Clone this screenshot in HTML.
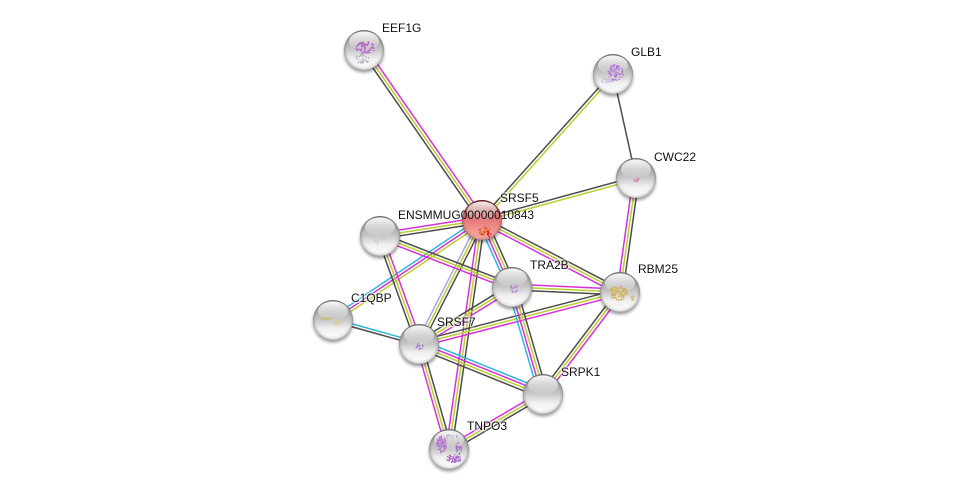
<!DOCTYPE html>
<html><head><meta charset="utf-8"><style>
html,body{margin:0;padding:0;background:#fff}
svg{display:block}
text{font-family:"Liberation Sans",sans-serif;font-size:12px;fill:#111;paint-order:stroke;stroke:rgba(255,255,255,.6);stroke-width:2.5px}
</style></head><body>
<svg id="s" width="976" height="493" viewBox="0 0 976 493" xmlns="http://www.w3.org/2000/svg">
<defs>
<linearGradient id="b" x1="0" y1="0" x2="0" y2="1"><stop offset="0" stop-color="#8d8d8d"/><stop offset=".3" stop-color="#b0b0b0"/><stop offset=".5" stop-color="#c8c8c8"/><stop offset=".72" stop-color="#f0f0f0"/><stop offset="1" stop-color="#fcfcfc"/></linearGradient>
<linearGradient id="r" x1="0" y1="0" x2="0" y2="1"><stop offset="0" stop-color="#7a1212"/><stop offset=".3" stop-color="#c86a6a"/><stop offset=".52" stop-color="#e87c7c"/><stop offset=".8" stop-color="#f59a92"/><stop offset="1" stop-color="#f8b0a8"/></linearGradient>
<radialGradient id="rim" cx=".5" cy=".5" r=".5"><stop offset="0" stop-color="#000" stop-opacity="0"/><stop offset=".82" stop-color="#000" stop-opacity="0"/><stop offset=".94" stop-color="#000" stop-opacity=".1"/><stop offset="1" stop-color="#000" stop-opacity=".32"/></radialGradient>
<linearGradient id="h" x1="0" y1="0" x2="0" y2="1"><stop offset="0" stop-color="#fff" stop-opacity=".95"/><stop offset=".5" stop-color="#fff" stop-opacity=".5"/><stop offset="1" stop-color="#fff" stop-opacity=".02"/></linearGradient>
<filter id="f" x="-30%" y="-30%" width="160%" height="160%"><feGaussianBlur stdDeviation="1.5"/></filter>
</defs>
<g id="e" fill="none" stroke-width="1.5"></g>
<g id="d"></g>
<g id="x"></g>
<text x="382" y="32">EEF1G</text>
<text x="631" y="56">GLB1</text>
<text x="654" y="161">CWC22</text>
<text x="500" y="202">SRSF5</text>
<text x="398" y="219" style="stroke:none">ENSMMUG00000010843</text>
<text x="530" y="269">TRA2B</text>
<text x="638" y="273">RBM25</text>
<text x="351" y="302">C1QBP</text>
<text x="437" y="326">SRSF7</text>
<text x="561" y="376">SRPK1</text>
<text x="467" y="430">TNPO3</text>
</svg>
<script>
var N={E:[364,50],G:[613,74],W:[636,178],S:[482,220],M:[380,236],T:[512,287],R:[620,292],C:[333,320],F:[419,344],K:[543,394],P:[449,449]};
var c={m:"#d92fd9",y:"#b9cf2b",k:"#4c4c4c",b:"#2fb6d9",l:"#a9a2f2"};
var L=[["E","S","myk"],["G","S","yk"],["G","W","k"],["W","S","yk"],["W","R","kym"],["S","R","kym"],["S","T","kymb"],["M","S","myk"],["C","S","bmy"],["S","F","kyl"],["S","P","kym"],["M","T","kym"],["M","F","myk"],["C","F","bk"],["F","T","kym"],["F","R","kym"],["F","K","bmyk"],["F","P","kym"],["T","R","myk"],["T","K","kymb"],["R","K","myk"],["K","P","kym"]];
var h="";
L.forEach(function(e){var a=N[e[0]],b=N[e[1]],dx=b[0]-a[0],dy=b[1]-a[1],l=Math.hypot(dx,dy),nx=-dy/l,ny=dx/l,n=e[2].length;
for(var i=0;i<n;i++){var o=(i-(n-1)/2)*2.9;h+='<line x1="'+(a[0]+nx*o)+'" y1="'+(a[1]+ny*o)+'" x2="'+(b[0]+nx*o)+'" y2="'+(b[1]+ny*o)+'" stroke="'+c[e[2][i]]+'"/>';}});
document.getElementById("e").innerHTML=h;
var d="";
for(var k in N){var x=N[k][0],y=N[k][1],g=k=="S"?"r":"b";
d+='<circle cx="'+x+'" cy="'+(y+2.5)+'" r="20" fill="#000" opacity=".4" filter="url(#f)"/>'+
'<circle cx="'+x+'" cy="'+y+'" r="20" fill="url(#'+g+')"/>'+
'<circle cx="'+x+'" cy="'+y+'" r="20" fill="url(#rim)"/>'+
'<ellipse cx="'+x+'" cy="'+(y-9)+'" rx="15" ry="9.5" fill="url(#h)"/>';}
document.getElementById("d").innerHTML=d;
var B=[[365,47,10,6,70,"#b060d0"],[362,58,7,5,25,"#a8a8b8"],[615,72,8,8,70,"#b070d8"],[607,80,6,4,25,"#c8b8e0"],[636,179,3,2,14,"#d880b0"],[484,231,6,5,26,"#d85010"],[488,234,3,3,10,"#e02020"],[380,238,7,6,16,"#d0c0dc"],[513,288,5,4,22,"#b888d8"],[326,318,7,1,14,"#d0b860"],[336,322,3,3,12,"#dcc878"],[419,346,4,3,14,"#a070c8"],[441,444,5,9,70,"#b070cc"],[453,458,8,4,60,"#a868c8"],[458,448,3,6,30,"#b070cc"],[450,436,8,2,14,"#c8a8d8"],[618,292,9,8,90,"#d8ae4c"],[632,297,2,3,8,"#c8b070"]];
var s=12345,R=function(){s=(s*1103515245+12345)&2147483647;return s/2147483647},q="";
B.forEach(function(b){for(var i=0;i<b[4];i++){var t=R()*6.283,u=Math.sqrt(R());q+='<rect x="'+(b[0]+b[2]*u*Math.cos(t)).toFixed(1)+'" y="'+(b[1]+b[3]*u*Math.sin(t)).toFixed(1)+'" width="1.3" height="1.3" fill="'+b[5]+'"/>';}});
document.getElementById("x").innerHTML=q;
</script>
</body></html>
